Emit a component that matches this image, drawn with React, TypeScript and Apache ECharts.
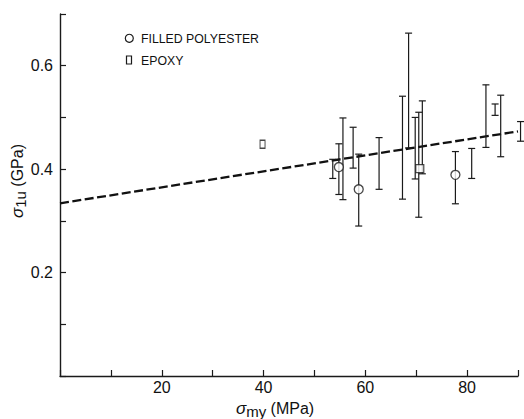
import React, { useEffect, useRef } from "react";
import * as echarts from "echarts";

// Axis ranges and tick labels
const xRange = [0, 90];
const xStep = 10;
const xTickLabels = [20, 40, 60, 80];
const yRange = [0, 0.7];
const yStep = 0.1;
const yTickLabels = [0.2, 0.4, 0.6];

// Filled polyester (circles) with error bars
const polyX = [54.8, 58.7, 77.7];
const polyY = [0.404, 0.361, 0.389];
const polyLow = [0.351, 0.29, 0.333];
const polyHigh = [0.449, 0.429, 0.434];

// Epoxy (open rectangles)
const epoxyX = [39.8, 70.7];
const epoxyY = [0.448, 0.401];
const epoxyBoxW = [5, 8];
const epoxyBoxH = [8, 8];

// Unmarked scatter bands (error bars only)
const barX = [53.6, 55.6, 57.6, 62.7, 67.3, 68.5, 69.8, 70.5, 71.2, 80.9, 83.7, 85.5, 86.6, 90.5];
const barLow = [0.382, 0.341, 0.402, 0.361, 0.342, 0.441, 0.381, 0.307, 0.391, 0.382, 0.442, 0.504, 0.424, 0.454];
const barHigh = [0.419, 0.499, 0.481, 0.461, 0.541, 0.663, 0.5, 0.51, 0.532, 0.44, 0.563, 0.526, 0.543, 0.492];

// Dashed fit line
const fitX = [0, 90];
const fitY = [0.334, 0.473];

const INK = "#1a1a1a";
const FONT = "'Liberation Sans', Arial, Helvetica, sans-serif";

function errorBarItem(params: any, api: any) {
  const x = api.value(0);
  const lo = api.value(1);
  const hi = api.value(2);
  const pTop = api.coord([x, hi]);
  const pBot = api.coord([x, lo]);
  const hw = 3.5;
  const style = { stroke: INK, lineWidth: 1.2 };
  return {
    type: "group",
    children: [
      { type: "line", shape: { x1: pTop[0], y1: pTop[1], x2: pBot[0], y2: pBot[1] }, style },
      { type: "line", shape: { x1: pTop[0] - hw, y1: pTop[1], x2: pTop[0] + hw, y2: pTop[1] }, style },
      { type: "line", shape: { x1: pBot[0] - hw, y1: pBot[1], x2: pBot[0] + hw, y2: pBot[1] }, style },
    ],
  };
}

export default function App() {
  const ref = useRef<HTMLDivElement>(null);
  useEffect(() => {
    if (!ref.current) return;
    const chart = echarts.init(ref.current, null, { renderer: "svg" });
    const near = (arr: number[], v: number) => arr.some((t) => Math.abs(t - v) < 1e-6);
    chart.setOption({
      animation: false,
      backgroundColor: "#ffffff",
      grid: { left: 60, right: 6, top: 14, bottom: 43 },
      xAxis: {
        type: "value",
        min: xRange[0],
        max: xRange[1],
        interval: xStep,
        splitLine: { show: false },
        axisLine: { lineStyle: { color: INK, width: 1.4 } },
        axisTick: { inside: true, length: 6, lineStyle: { color: INK, width: 1.2 } },
        axisLabel: {
          margin: 3,
          color: "#111",
          fontFamily: FONT,
          fontSize: 16,
          formatter: (v: number) => (near(xTickLabels, v) ? String(v) : ""),
        },
      },
      yAxis: {
        type: "value",
        min: yRange[0],
        max: yRange[1],
        interval: yStep,
        splitLine: { show: false },
        axisLine: { lineStyle: { color: INK, width: 1.4 } },
        axisTick: { inside: true, length: 6, lineStyle: { color: INK, width: 1.2 } },
        axisLabel: {
          margin: 7,
          color: "#111",
          fontFamily: FONT,
          fontSize: 16,
          formatter: (v: number) => (near(yTickLabels, v) ? v.toFixed(1) : ""),
        },
      },
      graphic: [
        {
          type: "circle",
          shape: { cx: 129.3, cy: 38.3, r: 4 },
          style: { fill: "#fff", stroke: INK, lineWidth: 1.2 },
        },
        {
          type: "text",
          x: 141,
          y: 38.5,
          style: { text: "FILLED POLYESTER", font: `12.3px ${FONT}`, fill: "#111", verticalAlign: "middle" },
        },
        {
          type: "rect",
          shape: { x: 126.5, y: 56, width: 5, height: 8 },
          style: { fill: "#fff", stroke: INK, lineWidth: 1.2 },
        },
        {
          type: "text",
          x: 141,
          y: 60.5,
          style: { text: "EPOXY", font: `12.3px ${FONT}`, fill: "#111", verticalAlign: "middle" },
        },
        {
          type: "text",
          x: 275,
          y: 408,
          style: {
            text: "{s|σ}{b|my}{n| (MPa)}",
            align: "center",
            verticalAlign: "middle",
            fill: "#111",
            rich: {
              s: { fontFamily: FONT, fontSize: 17, fill: "#111", fontStyle: "italic" },
              b: { fontFamily: FONT, fontSize: 15, fill: "#111", padding: [6, 0, 0, 0] },
              n: { fontFamily: FONT, fontSize: 16, fill: "#111" },
            },
          },
        },
        {
          type: "text",
          x: 17,
          y: 181,
          rotation: Math.PI / 2,
          style: {
            text: "{s|σ}{b|1u}{n| (GPa)}",
            align: "center",
            verticalAlign: "middle",
            fill: "#111",
            rich: {
              s: { fontFamily: FONT, fontSize: 17, fill: "#111", fontStyle: "italic" },
              b: { fontFamily: FONT, fontSize: 15, fill: "#111", padding: [6, 0, 0, 0] },
              n: { fontFamily: FONT, fontSize: 16, fill: "#111" },
            },
          },
        },
      ],
      series: [
        {
          type: "line",
          name: "fit",
          data: fitX.map((x, i) => [x, fitY[i]]),
          symbol: "none",
          lineStyle: { color: "#111", width: 2.3, type: [9, 3.5] },
          z: 1,
        },
        {
          type: "custom",
          name: "bands",
          renderItem: errorBarItem,
          data: barX.map((x, i) => [x, barLow[i], barHigh[i]]),
          encode: { x: 0, y: [1, 2] },
          clip: false,
          z: 2,
        },
        {
          type: "custom",
          name: "FILLED POLYESTER bars",
          renderItem: errorBarItem,
          data: polyX.map((x, i) => [x, polyLow[i], polyHigh[i]]),
          encode: { x: 0, y: [1, 2] },
          clip: false,
          z: 2,
        },
        {
          type: "scatter",
          name: "FILLED POLYESTER",
          data: polyX.map((x, i) => [x, polyY[i]]),
          symbol: "circle",
          symbolSize: 9,
          itemStyle: { color: "#fff", borderColor: INK, borderWidth: 1.3 },
          z: 3,
        },
        {
          type: "scatter",
          name: "EPOXY",
          data: epoxyX.map((x, i) => ({ value: [x, epoxyY[i]], symbolSize: [epoxyBoxW[i], epoxyBoxH[i]] })),
          symbol: "rect",
          itemStyle: { color: "#fff", borderColor: INK, borderWidth: 1.2 },
          z: 3,
        },
      ],
    });
    return () => chart.dispose();
  }, []);
  return <div ref={ref} style={{ position: "fixed", left: 0, top: 0, width: 524, height: 419 }} />;
}
